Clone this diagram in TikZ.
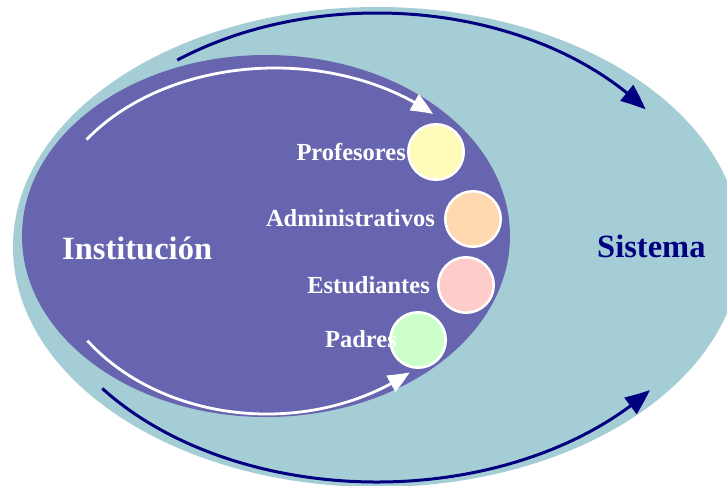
\documentclass[tikz,border=0pt]{standalone}
\usepackage{fontspec}
\setmainfont{Liberation Serif}
\usetikzlibrary{arrows.meta,bending,calc}
\definecolor{sysblue}{RGB}{165,205,213}
\definecolor{instviolet}{RGB}{103,101,176}
\definecolor{sysnavy}{RGB}{0,0,128}
\definecolor{profyellow}{RGB}{255,251,185}
\definecolor{adminpeach}{RGB}{255,216,176}
\definecolor{studpink}{RGB}{255,204,204}
\definecolor{parentgreen}{RGB}{204,255,204}
\tikzset{
  member/.style={circle, draw=white, line width=2.5pt, minimum size=55.5pt, inner sep=0pt},
  grouplabel/.style={text=white, font=\bfseries\fontsize{24.5}{28}\selectfont, inner sep=0pt, anchor=base east},
  biglabel/.style={font=\bfseries\fontsize{32.5}{36}\selectfont, inner sep=0pt, anchor=base west},
  navyflow/.style={draw=sysnavy, line width=3pt, -{Triangle[length=25pt,width=20pt,bend]}},
  whiteflow/.style={draw=white, line width=2.8pt, -{Triangle[length=22pt,width=18pt,bend]}}
}
\begin{document}
\begin{tikzpicture}[x=1pt,y=-1pt]
  \useasboundingbox (0,0) rectangle (727,485);
  \clip (0,0) rectangle (727,485);
  \fill[white] (0,0) rectangle (727,485);

  % outer system and inner institution
  \coordinate (syscenter) at (377,247);
  \coordinate (instcenter) at (266,236);
  \fill[sysblue] (syscenter) ellipse [x radius=364, y radius=240];
  \fill[instviolet] (instcenter) ellipse [x radius=244, y radius=181];

  % flows around the system
  \coordinate (sysTopStart) at ($(377,247)+(-127:332 and 234)$);
  \coordinate (sysBotStart) at ($(377,247)+(143:344 and 235)$);
  \path[navyflow] (sysTopStart) arc[start angle=-127, end angle=-36, x radius=332, y radius=234];
  \path[navyflow] (sysBotStart) arc[start angle=143, end angle=37.5, x radius=344, y radius=235];

  % flows inside the institution
  \coordinate (instTopStart) at ($(275,236)+(-145:230 and 168)$);
  \coordinate (instBotStart) at ($(267,236)+(144:222 and 178)$);
  \path[whiteflow] (instTopStart) arc[start angle=-145, end angle=-46.6, x radius=230, y radius=168];
  \path[whiteflow] (instBotStart) arc[start angle=144, end angle=50, x radius=222, y radius=178];

  % members
  \node[member, fill=profyellow]  (prof)   at (436,152) {};
  \node[member, fill=adminpeach]  (admin)  at (473,219) {};
  \node[member, fill=studpink]    (stud)   at (466,285) {};
  \node[member, fill=parentgreen] (parent) at (418,340) {};

  \node[grouplabel] (lprof)   at (406,160) {Profesores};
  \node[grouplabel] (ladmin)  at (435,226) {Administrativos};
  \node[grouplabel] (lstud)   at (430,293) {Estudiantes};
  \node[grouplabel] (lparent) at (397,347) {Padres};

  \node[biglabel, text=white]   (inst) at (62,259)  {Institución};
  \node[biglabel, text=sysnavy] (sys)  at (597,257) {Sistema};
\end{tikzpicture}
\end{document}
